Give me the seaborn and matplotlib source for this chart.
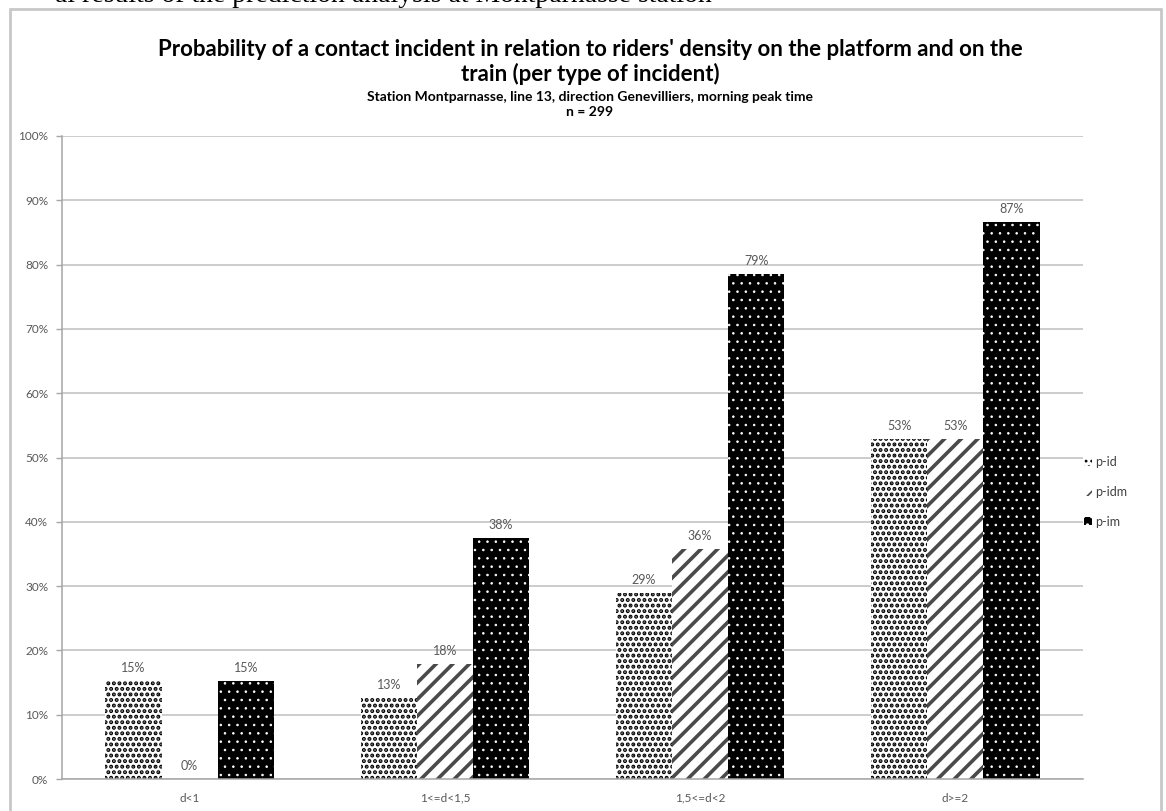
import matplotlib
matplotlib.use("Agg")
import matplotlib.pyplot as plt
from matplotlib.patches import Patch
from matplotlib.lines import Line2D
import seaborn as sns
import pandas as pd
import numpy as np

categories = ['d<1', '1<=d<1,5', '1,5<=d<2', 'd>=2']
series = ['p-id', 'p-idm', 'p-im']
p_id = [15.2, 12.6, 28.9, 52.9]
p_idm = [0.0, 17.9, 35.8, 52.9]
p_im = [15.2, 37.5, 78.6, 86.7]
yticks = [0, 10, 20, 30, 40, 50, 60, 70, 80, 90, 100]

title1 = "Probability of a contact incident in relation to riders' density on the platform and on the"
title2 = "train (per type of incident)"
subtitle1 = "Station Montparnasse, line 13, direction Genevilliers, morning peak time"
subtitle2 = "n = 299"
top_text = "al results of the prediction analysis at Montparnasse station"

sns.set_theme(style="white")
plt.rcParams['font.family'] = ['Lato', 'DejaVu Sans']

rows = []
for s, vals in zip(series, [p_id, p_idm, p_im]):
    for c, v in zip(categories, vals):
        rows.append({'density': c, 'type': s, 'value': v})
df = pd.DataFrame(rows)

W, H = 1166, 811
fig = plt.figure(figsize=(W / 100, H / 100), dpi=100)
ax = fig.add_axes([62 / W, 1 - 779 / H, (1083 - 62) / W, (779 - 136) / H])

sns.barplot(data=df, x='density', y='value', hue='type', order=categories,
            hue_order=series, palette=['white', 'white', 'black'],
            width=0.66, saturation=1, errorbar=None, legend=False, ax=ax)

styles = {
    'p-id': dict(face='white', hatchc='black', hatch='...', hlw=2.0),
    'p-idm': dict(face='white', hatchc='#4a4a4a', hatch='//', hlw=2.6),
    'p-im': dict(face='black', hatchc='white', hatch='..', hlw=0.6),
}

def style_patch(p, st):
    p.set_facecolor(st['face'])
    p.set_edgecolor(st['hatchc'])
    p.set_hatch(st['hatch'])
    p.set_linewidth(0)
    if hasattr(p, 'set_hatch_linewidth'):
        p.set_hatch_linewidth(st['hlw'])

for s, cont in zip(series, ax.containers):
    for bar in cont:
        style_patch(bar, styles[s])
    labels = [f"{int(np.floor(b.get_height() + 0.5))}%" for b in cont]
    ax.bar_label(cont, labels=labels, padding=5, fontsize=9, color='#595959')

ax.set_xlim(-0.5, 3.5)
ax.set_ylim(0, 100)
ax.set_yticks(yticks)
ax.set_yticklabels([f"{t}%" for t in yticks], fontsize=8.5, color='#595959')
ax.set_xticks(range(len(categories)))
ax.set_xticklabels(categories, fontsize=8.5, color='#595959')
ax.set_xticks(np.arange(-0.5, len(categories), 1.0), minor=True)
ax.tick_params(axis='x', which='major', length=0, pad=10)
ax.tick_params(axis='x', which='minor', length=4, color='#a6a6a6', width=1)
ax.tick_params(axis='y', length=4, color='#a6a6a6', width=1, pad=6, left=True)
ax.set_xlabel('')
ax.set_ylabel('')
ax.grid(axis='y', color='#c4c4c4', linewidth=1.2)
ax.set_axisbelow(True)
for side in ['top', 'right']:
    ax.spines[side].set_visible(False)
for side in ['left', 'bottom']:
    ax.spines[side].set_color('#a6a6a6')
    ax.spines[side].set_linewidth(1.1)

handles = []
for s in series:
    st = styles[s]
    hp = Patch(facecolor=st['face'], edgecolor=st['hatchc'], hatch=st['hatch'], linewidth=0)
    handles.append(hp)
leg = fig.legend(handles, series, loc='center left',
                 bbox_to_anchor=(1079 / W, 1 - 492 / H), frameon=False,
                 fontsize=9, handlelength=0.6, handleheight=0.6,
                 handletextpad=0.3, labelspacing=1.4, borderaxespad=0)
for t in leg.get_texts():
    t.set_color('#404040')
for hp in leg.legend_handles:
    if hasattr(hp, 'set_hatch_linewidth'):
        hp.set_hatch_linewidth(1.2)

fig.text(590 / W, 1 - 50 / H, title1, ha='center', va='center', fontsize=16, fontweight='bold', color='black')
fig.text(590 / W, 1 - 74 / H, title2, ha='center', va='center', fontsize=16, fontweight='bold', color='black')
fig.text(590 / W, 1 - 97 / H, subtitle1, ha='center', va='center', fontsize=10, fontweight='bold', color='black')
fig.text(590 / W, 1 - 112 / H, subtitle2, ha='center', va='center', fontsize=10, fontweight='bold', color='black')
fig.text(55 / W, 1 - 2 / H, top_text, ha='left', va='baseline', fontsize=20,
         family=['Liberation Serif', 'DejaVu Serif'], color='black')

frame_c = '#c8c8c8'
fig.add_artist(Line2D([10 / W, 10 / W], [0, 1 - 9 / H], transform=fig.transFigure, color=frame_c, lw=2))
fig.add_artist(Line2D([10 / W, 1161 / W], [1 - 9 / H, 1 - 9 / H], transform=fig.transFigure, color=frame_c, lw=2))
fig.add_artist(Line2D([1161 / W, 1161 / W], [0, 1 - 9 / H], transform=fig.transFigure, color=frame_c, lw=2))

fig.savefig('out.png', dpi=100, facecolor='white')
